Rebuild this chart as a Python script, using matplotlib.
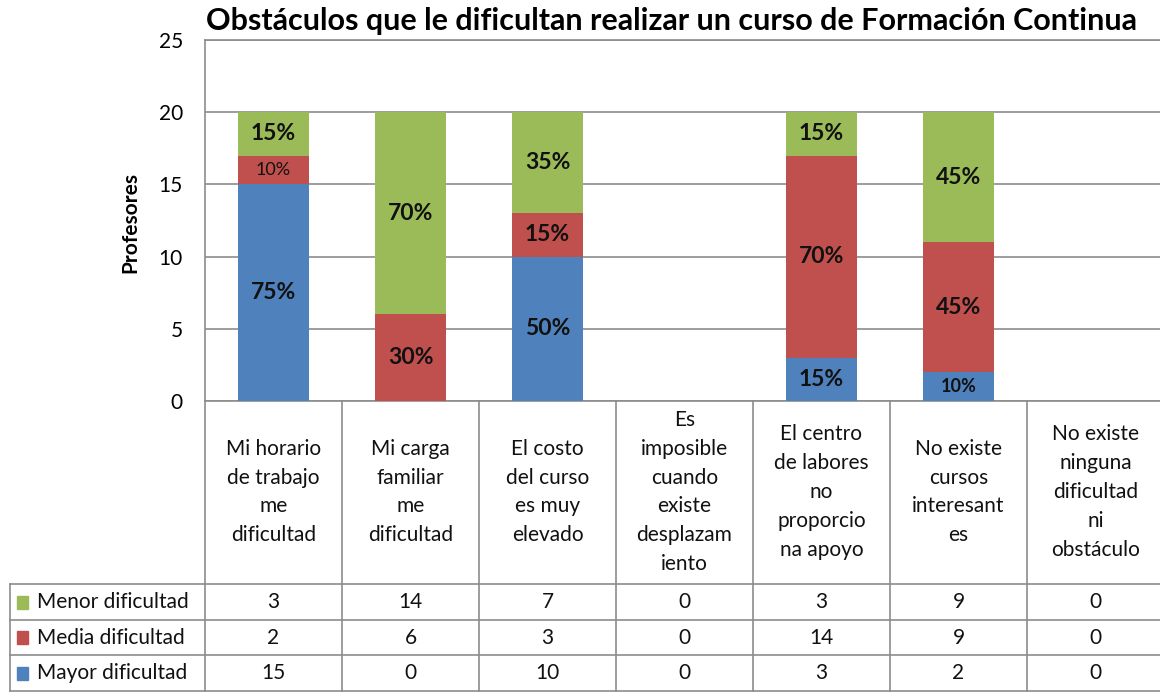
import matplotlib.pyplot as plt
from matplotlib.patches import Rectangle

plt.rcParams['font.family'] = ['Lato', 'DejaVu Sans']

categories = [
    "Mi horario\nde trabajo\nme\ndificultad",
    "Mi carga\nfamiliar\nme\ndificultad",
    "El costo\ndel curso\nes muy\nelevado",
    "Es\nimposible\ncuando\nexiste\ndesplazam\niento",
    "El centro\nde labores\nno\nproporcio\nna apoyo",
    "No existe\ncursos\ninteresant\nes",
    "No existe\nninguna\ndificultad\nni\nobstáculo",
]
mayor = [15, 0, 10, 0, 3, 2, 0]
media = [2, 6, 3, 0, 14, 9, 0]
menor = [3, 14, 7, 0, 3, 9, 0]
total = 20

series_names = ["Menor dificultad", "Media dificultad", "Mayor dificultad"]
colors = {"Mayor dificultad": "#4F81BD", "Media dificultad": "#C0504D", "Menor dificultad": "#9BBB59"}

W, H = 1160, 698
fig = plt.figure(figsize=(W / 100, H / 100), dpi=100)

# main plot area (pixel coords from the reference)
x0, x1 = 205, 205 + 137 * 7
ax = fig.add_axes([x0 / W, (H - 401) / H, (x1 - x0) / W, (401 - 40) / H])
tab = fig.add_axes([x0 / W, (H - 691) / H, (x1 - x0) / W, (691 - 401) / H])

x = list(range(len(categories)))
grid_c = "#8c8c8c"

bottoms = [0] * len(x)
for name, vals in [("Mayor dificultad", mayor), ("Media dificultad", media), ("Menor dificultad", menor)]:
    ax.bar(x, vals, bottom=bottoms, width=0.52, color=colors[name], zorder=3)
    for i, v in enumerate(vals):
        if v == 0:
            continue
        pct = f"{round(v / total * 100)}%"
        small = v <= 2
        weight = "normal" if (small and name == "Media dificultad") else "bold"
        ax.text(i, bottoms[i] + v / 2, pct, ha="center", va="center",
                fontsize=13 if small else 16.5, fontweight=weight, color="#111111", zorder=4)
    bottoms = [b + v for b, v in zip(bottoms, vals)]

ax.set_xlim(-0.5, 6.5)
ax.set_ylim(0, 25)
ax.set_yticks([0, 5, 10, 15, 20, 25])
ax.tick_params(axis="y", length=0, pad=16, labelsize=15)
ax.set_xticks([])
ax.yaxis.grid(True, color=grid_c, linewidth=1.2, zorder=0)
for s in ["left", "top", "bottom"]:
    ax.spines[s].set_color(grid_c)
    ax.spines[s].set_linewidth(1.2)
ax.spines["right"].set_visible(False)
ax.set_ylabel("Profesores", fontsize=15, fontweight="bold")
ax.yaxis.set_label_coords((140 - x0) / (x1 - x0), (401 - 222) / 361)

fig.text(672 / W, 1 - 21 / H, "Obstáculos que le dificultan realizar un curso de Formación Continua",
         ha="center", va="center", fontsize=22, fontweight="bold")

# data table below the bars
tab.set_xlim(-0.5, 6.5)
tab.set_ylim(290, 0)
tab.axis("off")
left_edge = -0.5 + (10 - x0) / 137
row_lines = [183, 219, 254, 290]
for k in range(8):
    tab.plot([k - 0.5, k - 0.5], [0, 290], color=grid_c, lw=1.2, clip_on=False)
for yl in row_lines:
    tab.plot([left_edge, 6.5], [yl, yl], color=grid_c, lw=1.2, clip_on=False)
tab.plot([left_edge, left_edge], [183, 290], color=grid_c, lw=1.2, clip_on=False)

for i, c in enumerate(categories):
    tab.text(i, 91, c, ha="center", va="center", fontsize=15, linespacing=1.55, color="#111111")

rows = {"Menor dificultad": menor, "Media dificultad": media, "Mayor dificultad": mayor}
for r, name in enumerate(series_names):
    yc = (row_lines[r] + row_lines[r + 1]) / 2
    sx = -0.5 + (17 - x0) / 137
    tab.add_patch(Rectangle((sx, yc - 6.5), 11 / 137, 13, color=colors[name], clip_on=False))
    tab.text(-0.5 + (37 - x0) / 137, yc, name, ha="left", va="center", fontsize=15, color="#111111")
    for i, v in enumerate(rows[name]):
        tab.text(i, yc, str(v), ha="center", va="center", fontsize=15, color="#111111")

fig.savefig("out.png", dpi=100)
